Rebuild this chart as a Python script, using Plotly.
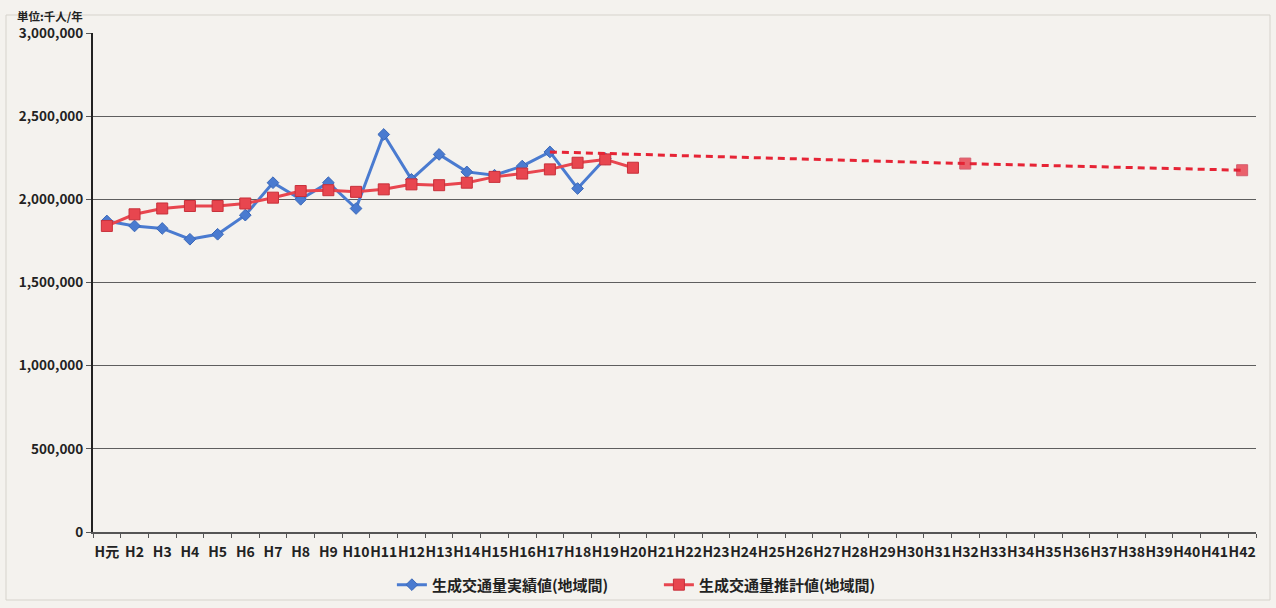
import plotly.graph_objects as go

# Fiscal years (Heisei era) on the category axis
years = ["H元"] + [f"H{i}" for i in range(2, 43)]

# Actual generated traffic volume, H元–H19 (thousand persons / year)
actual_years = years[:19]
actual_values = [1870000, 1840000, 1825000, 1760000, 1790000, 1905000, 2100000,
                 2000000, 2100000, 1945000, 2390000, 2120000, 2270000, 2165000,
                 2145000, 2200000, 2285000, 2065000, 2245000]

# Estimated generated traffic volume, H元–H20
estimate_years = years[:20]
estimate_values = [1840000, 1910000, 1945000, 1960000, 1960000, 1975000, 2010000,
                   2050000, 2055000, 2045000, 2060000, 2090000, 2085000, 2100000,
                   2135000, 2155000, 2180000, 2220000, 2240000, 2190000]

# Future projection (dashed), starting from the H17 actual value
forecast_years = ["H17", "H32", "H42"]
forecast_values = [2285000, 2215000, 2175000]

BLUE = "#4a7bd0"
RED = "#e8464f"
DASH_RED = "#e62435"
FONT = "Noto Sans CJK JP"
TEXT = "#222222"

fig = go.Figure()

fig.add_trace(go.Scatter(
    x=actual_years, y=actual_values, mode="lines+markers",
    name="生成交通量実績値(地域間)",
    line=dict(color=BLUE, width=3),
    marker=dict(symbol="diamond", size=9, color=BLUE,
                line=dict(color="#3a68b8", width=1)),
))

fig.add_trace(go.Scatter(
    x=estimate_years, y=estimate_values, mode="lines+markers",
    name="生成交通量推計値(地域間)",
    line=dict(color=RED, width=3),
    marker=dict(symbol="square", size=11, color=RED,
                line=dict(color="#c8303a", width=1)),
))

fig.add_trace(go.Scatter(
    x=forecast_years, y=forecast_values, mode="lines+markers",
    showlegend=False,
    line=dict(color=DASH_RED, width=3, dash="7px,5px"),
    marker=dict(symbol="square", size=[0, 11, 11], color=DASH_RED,
                line=dict(color="#c8203a", width=1)),
))

fig.update_layout(
    width=1276, height=608,
    margin=dict(l=93, r=20, t=33, b=76, autoexpand=False),
    paper_bgcolor="#f4f2ee",
    plot_bgcolor="#f4f2ee",
    font=dict(family=FONT, size=12, color=TEXT),
    showlegend=True,
    legend=dict(
        orientation="h", x=0.257, xanchor="left", y=-0.106, yanchor="middle",
        font=dict(family=FONT, size=15, color=TEXT, weight="bold"),
        bgcolor="rgba(0,0,0,0)", itemwidth=30,
        entrywidth=222, entrywidthmode="pixels",
    ),
    xaxis=dict(
        type="category", categoryorder="array", categoryarray=years,
        range=[-0.5, len(years) - 0.5],
        showgrid=False, showline=True, linecolor="#555555", linewidth=1.5,
        ticks="outside", tickson="boundaries", ticklen=4, tickcolor="#555555",
        tickfont=dict(family=FONT, size=14, color=TEXT, weight="bold"),
        tickangle=0, ticklabelstandoff=6,
    ),
    yaxis=dict(
        range=[0, 3000000], dtick=500000, tickformat=",d",
        showgrid=True, gridcolor="#5e5e5e", gridwidth=1.2,
        zeroline=False,
        showline=True, linecolor=TEXT, linewidth=2,
        ticks="outside", ticklen=5, tickcolor="#555555",
        tickfont=dict(family=FONT, size=13.5, color=TEXT, weight="bold"),
    ),
    annotations=[dict(
        text="単位:千人/年", xref="paper", yref="paper",
        x=-78 / 1163, y=1 + 17 / 499,
        xanchor="left", yanchor="middle", showarrow=False,
        font=dict(family=FONT, size=11.5, color=TEXT, weight="bold"),
    )],
    shapes=[dict(
        type="rect", xref="paper", yref="paper",
        x0=-87 / 1163, x1=1 + 14 / 1163, y0=-68 / 499, y1=1 + 18 / 499,
        line=dict(color="#d6d3cc", width=1), fillcolor="rgba(0,0,0,0)",
        layer="below",
    )],
)

fig.write_html("out.html")
